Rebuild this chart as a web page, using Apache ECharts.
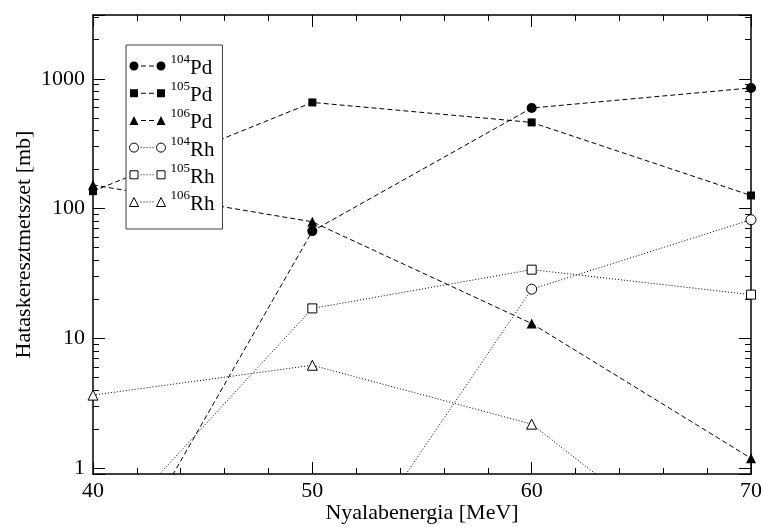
<!DOCTYPE html>
<html>
<head>
<meta charset="utf-8">
<script src="https://cdn.jsdelivr.net/npm/echarts@6/dist/echarts.min.js"></script>
<style>
  html, body { margin: 0; padding: 0; background: #fff; }
  #chart { width: 763px; height: 527px; }
</style>
</head>
<body>
<div id="chart"></div>
<script>
// energia (MeV)
const energy = [40, 50, 60, 70];

// hataskeresztmetszet (mb) -- az 1 mb alatti pontok a tengelyen kivul esnek
const pd104 = [0.075, 67, 595, 850];
const pd105 = [136, 657, 461, 126];
const pd106 = [152, 79, 13, 1.19];
const rh104 = [0.05, 0.078, 23.9, 82];
const rh105 = [0.25, 17, 33.8, 21.7];
const rh106 = [3.65, 6.2, 2.18, 0.105];

const seriesNames = ['104Pd', '105Pd', '106Pd', '104Rh', '105Rh', '106Rh'];
const massNumbers = ['104', '105', '106', '104', '105', '106'];
const elements = ['Pd', 'Pd', 'Pd', 'Rh', 'Rh', 'Rh'];

const xTicks = [40, 50, 60, 70];
const yLabels = [1, 10, 100, 1000];

const Y_MIN = 0.9, Y_MAX = 3100;
const FONT = 'Liberation Serif';

// legend ikonok: jel -- vonal -- jel
const BOUNDS = 'M0,0M36,10';
const circL = 'M0,5a4.5,4.5 0 1,0 9,0a4.5,4.5 0 1,0 -9,0z';
const circR = 'M27,5a4.5,4.5 0 1,0 9,0a4.5,4.5 0 1,0 -9,0z';
const rectL = 'M0.5,1h8v8h-8z';
const rectR = 'M27.5,1h8v8h-8z';
const triL = 'M4.5,0.5L9,9.5L0,9.5z';
const triR = 'M31.5,0.5L36,9.5L27,9.5z';
const dash = 'M11.5,4.5h5v1h-5zM19.5,4.5h5v1h-5z';
const dots = 'M11,5h1M14,5h1M17,5h1M20,5h1M23,5h1';

const icons = [
  circL + dash + circR, rectL + dash + rectR, triL + dash + triR,
  circL + dots + circR, rectL + dots + rectR, triL + dots + triR
].map(p => 'path://' + BOUNDS + p);

const filled = { color: '#000', borderWidth: 0 };
const hollow = { color: '#fff', borderColor: '#000', borderWidth: 1 };

function makeSeries(i, values, symbol, size, isFilled) {
  return {
    name: seriesNames[i],
    type: 'line',
    xAxisIndex: 0,
    yAxisIndex: 0,
    data: energy.map((e, k) => [e, values[k]]),
    symbol: symbol,
    symbolSize: size,
    showAllSymbol: true,
    clip: true,
    itemStyle: isFilled ? filled : hollow,
    lineStyle: {
      color: '#000',
      width: 1,
      type: isFilled ? [5, 3] : [1, 2]
    },
    emphasis: { disabled: true },
    z: isFilled ? 3 : 2
  };
}

const chart = echarts.init(document.getElementById('chart'));

const xCommon = {
  type: 'value',
  min: 40,
  max: 70,
  interval: 10,
  axisLine: { show: true, onZero: false, lineStyle: { color: '#000', width: 1.5 } },
  axisTick: { show: true, inside: true, length: 12, lineStyle: { color: '#000', width: 1 } },
  minorTick: { show: true, splitNumber: 5, length: 6, lineStyle: { color: '#000', width: 1 } },
  splitLine: { show: false },
  minorSplitLine: { show: false }
};

const yCommon = {
  type: 'log',
  logBase: 10,
  min: Y_MIN,
  max: Y_MAX,
  axisLine: { show: true, onZero: false, lineStyle: { color: '#000', width: 1.5 } },
  axisTick: { show: true, inside: true, length: 12, lineStyle: { color: '#000', width: 1 } },
  minorTick: { show: true, splitNumber: 9, length: 6, lineStyle: { color: '#000', width: 1 } },
  splitLine: { show: false },
  minorSplitLine: { show: false }
};

const option = {
  animation: false,
  backgroundColor: '#fff',
  grid: { left: 93, right: 12, top: 15, bottom: 53, containLabel: false, outerBoundsMode: 'none' },
  xAxis: [
    Object.assign({}, xCommon, {
      position: 'bottom',
      name: 'Nyalabenergia [MeV]',
      nameLocation: 'middle',
      nameGap: 28,
      nameMoveOverlap: false,
      nameTextStyle: { fontFamily: FONT, fontSize: 22, color: '#000' },
      axisLabel: {
        show: true, margin: 6, fontFamily: FONT, fontSize: 22, color: '#000',
        customValues: xTicks
      }
    }),
    Object.assign({}, xCommon, {
      position: 'top',
      axisLabel: { show: false }
    })
  ],
  yAxis: [
    Object.assign({}, yCommon, {
      position: 'left',
      name: 'Hataskeresztmetszet [mb]',
      nameLocation: 'middle',
      nameGap: 58,
      nameMoveOverlap: false,
      nameTextStyle: { fontFamily: FONT, fontSize: 22, color: '#000' },
      axisLabel: {
        show: true, margin: 8, fontFamily: FONT, fontSize: 22, color: '#000',
        showMinLabel: false, showMaxLabel: false,
        formatter: v => yLabels.indexOf(Math.round(v)) >= 0 ? String(Math.round(v)) : ''
      }
    }),
    Object.assign({}, yCommon, {
      position: 'right',
      axisLabel: { show: false }
    })
  ],
  legend: {
    orient: 'vertical',
    left: 126,
    top: 45,
    padding: [8, 8, 14, 3],
    itemGap: 1.2,
    itemWidth: 36,
    itemHeight: 10,
    selectedMode: false,
    backgroundColor: '#fff',
    borderColor: '#444',
    borderWidth: 1,
    borderRadius: 0,
    data: seriesNames.map((n, i) => ({
      name: n,
      icon: icons[i],
      itemStyle: i < 3 ? filled : hollow
    })),
    formatter: name => {
      const i = seriesNames.indexOf(name);
      return '{sup|' + massNumbers[i] + '}{el|' + elements[i] + '}';
    },
    textStyle: {
      fontFamily: FONT,
      color: '#000',
      rich: {
        sup: { fontFamily: FONT, fontSize: 13, color: '#000', verticalAlign: 'top' },
        el: { fontFamily: FONT, fontSize: 21, color: '#000', lineHeight: 26, verticalAlign: 'bottom' }
      }
    }
  },
  series: [
    makeSeries(0, pd104, 'circle', 10, true),
    makeSeries(1, pd105, 'rect', 8, true),
    makeSeries(2, pd106, 'triangle', 10, true),
    makeSeries(3, rh104, 'circle', 10, false),
    makeSeries(4, rh105, 'rect', 9, false),
    makeSeries(5, rh106, 'triangle', 10, false)
  ]
};

chart.setOption(option);
</script>
</body>
</html>
